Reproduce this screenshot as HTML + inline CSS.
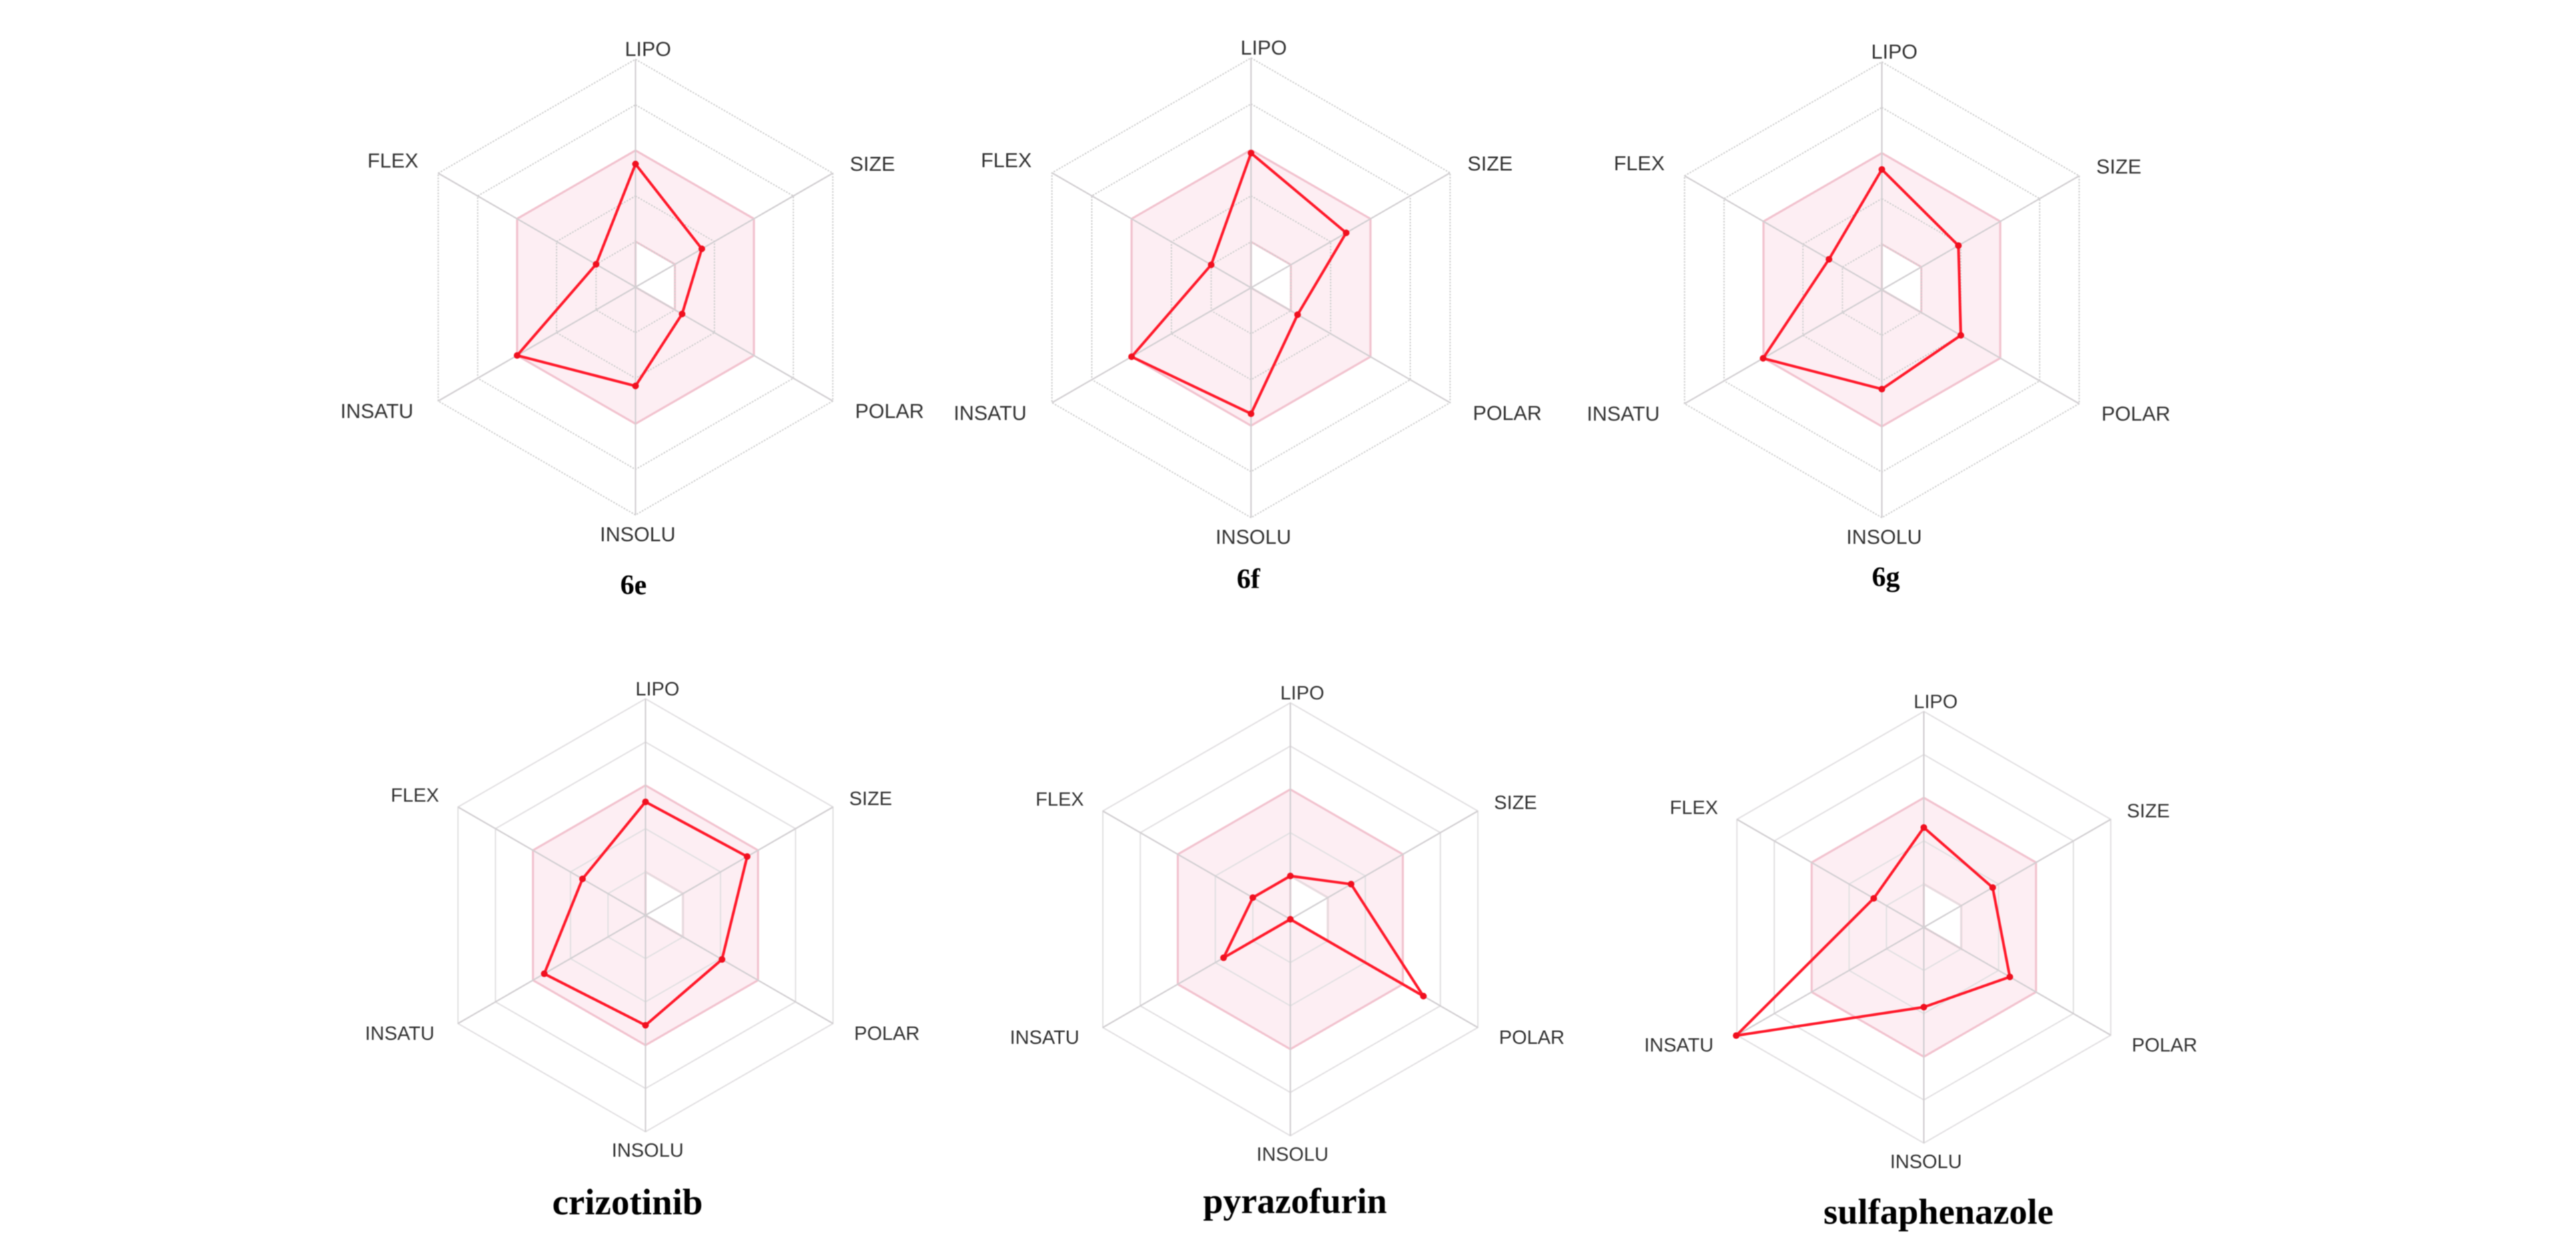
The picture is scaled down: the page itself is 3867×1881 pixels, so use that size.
<!DOCTYPE html>
<html lang="en">
<head>
<meta charset="utf-8">
<title>Bioavailability radar charts</title>
<style>
  html, body { margin: 0; padding: 0; background: #ffffff; }
  #figure { display: block; width: 3867px; height: 1881px; background: #ffffff; filter: blur(0.8px); }
  .axis-label { font-family: "Liberation Sans", sans-serif; fill: #333333; text-anchor: middle; }
  .panel-title { font-family: "Liberation Serif", serif; font-weight: bold; fill: #000000; text-anchor: middle; }
</style>
</head>
<body>
<svg id="figure" xmlns="http://www.w3.org/2000/svg" width="3867" height="1881" viewBox="0 0 3867 1881"></svg>
<script>
// Axis categories, clockwise from the top
const axisLabels = ["LIPO", "SIZE", "POLAR", "INSOLU", "INSATU", "FLEX"];
// Radial tick levels and the optimal-range band limits
const ringLevels = [1, 2, 3, 4, 5];
const bandUpper = 3;
const bandLower = 1;
const axisMax = 5;

// Series values in the order of axisLabels
const values6e = [2.70, 1.68, 1.18, 2.17, 3.00, 1.00];
const values6f = [2.93, 2.39, 1.17, 2.74, 3.00, 1.00];
const values6g = [2.64, 1.94, 2.00, 2.18, 3.01, 1.34];
const valuesCrizotinib = [2.62, 2.71, 2.04, 2.54, 2.70, 1.68];
const valuesPyrazofurin = [1.00, 1.62, 3.55, 0.00, 1.78, 1.00];
const valuesSulfaphenazole = [2.31, 1.84, 2.30, 1.85, 5.02, 1.34];

// Panel layout (separate from the data)
const panels = [
  { title: "6e", slug: "6e", values: values6e, cx: 954, cy: 431, r: 342, titleX: 951, titleY: 892, titleSize: 42, labelSize: 30.5, dotted: true },
  { title: "6f", slug: "6f", values: values6f, cx: 1878, cy: 432, r: 345, titleX: 1874, titleY: 883, titleSize: 42, labelSize: 30.5, dotted: true },
  { title: "6g", slug: "6g", values: values6g, cx: 2825, cy: 435, r: 342, titleX: 2831, titleY: 880, titleSize: 42, labelSize: 30.5, dotted: true },
  { title: "crizotinib", slug: "crizotinib", values: valuesCrizotinib, cx: 969, cy: 1374, r: 325, titleX: 942, titleY: 1823, titleSize: 55, labelSize: 29, dotted: false },
  { title: "pyrazofurin", slug: "pyrazofurin", values: valuesPyrazofurin, cx: 1937, cy: 1380, r: 325, titleX: 1944, titleY: 1821, titleSize: 54, labelSize: 29, dotted: false },
  { title: "sulfaphenazole", slug: "sulfaphenazole", values: valuesSulfaphenazole, cx: 2888, cy: 1392, r: 324, titleX: 2910, titleY: 1837, titleSize: 54.5, labelSize: 29, dotted: false }
];

// Label anchor offsets as fractions of the radius, one per axis
const labelOffsetX = [0.055, 1.04, 1.115, 0.01, -1.135, -1.065];
const labelOffsetY = [-1.015, -0.51, 0.575, 1.115, 0.575, -0.525];

const SVG_NS = "http://www.w3.org/2000/svg";
const figure = document.getElementById("figure");

function angleOf(i) {
  return (-90 + 60 * i) * Math.PI / 180;
}
function radiusScale(panel, value) {
  return value / axisMax * panel.r;
}
function pointAt(panel, i, value) {
  const rad = radiusScale(panel, value);
  return [panel.cx + Math.cos(angleOf(i)) * rad, panel.cy + Math.sin(angleOf(i)) * rad];
}
function pointString(pts) {
  return pts.map(function (p) { return p[0].toFixed(1) + "," + p[1].toFixed(1); }).join(" ");
}
function pathString(pts) {
  return "M" + pts.map(function (p) { return p[0].toFixed(1) + " " + p[1].toFixed(1); }).join("L") + "Z";
}
function ringPoints(panel, level) {
  return axisLabels.map(function (_, i) { return pointAt(panel, i, level); });
}

panels.forEach(function (panel) {
  const group = document.createElementNS(SVG_NS, "g");
  
  
  figure.appendChild(group);

  // Optimal-range band: upper hexagon minus the wedge bounded by the lower limit
  const outer = ringPoints(panel, bandUpper);
  const hole = [[panel.cx, panel.cy], pointAt(panel, 0, bandLower), pointAt(panel, 1, bandLower), pointAt(panel, 2, bandLower)];
  const band = document.createElementNS(SVG_NS, "path");
  band.setAttribute("d", pathString(outer) + pathString(hole));
  band.setAttribute("fill", "#fdeef3");
  band.setAttribute("fill-rule", "evenodd");
  band.setAttribute("stroke", "#f2c3cf");
  band.setAttribute("stroke-width", "3");
  
  
  group.appendChild(band);

  // Concentric rings
  ringLevels.forEach(function (level) {
    const ring = document.createElementNS(SVG_NS, "polygon");
    ring.setAttribute("points", pointString(ringPoints(panel, level)));
    ring.setAttribute("fill", "none");
    ring.setAttribute("stroke", panel.dotted ? "#cfcfcf" : "#e2e0e2");
    ring.setAttribute("stroke-width", "2");
    if (panel.dotted) {
      ring.setAttribute("stroke-dasharray", "2.5 2");
    }
    
    
    group.appendChild(ring);
  });

  // Re-draw the band edge on top of the ring at the band limit
  const bandEdge = document.createElementNS(SVG_NS, "polygon");
  bandEdge.setAttribute("points", pointString(outer));
  bandEdge.setAttribute("fill", "none");
  bandEdge.setAttribute("stroke", "#f2c3cf");
  bandEdge.setAttribute("stroke-width", "3");
  
  
  group.appendChild(bandEdge);

  // Spokes and axis labels
  axisLabels.forEach(function (label, i) {
    const end = pointAt(panel, i, axisMax);
    const spoke = document.createElementNS(SVG_NS, "line");
    spoke.setAttribute("x1", panel.cx);
    spoke.setAttribute("y1", panel.cy);
    spoke.setAttribute("x2", end[0].toFixed(1));
    spoke.setAttribute("y2", end[1].toFixed(1));
    spoke.setAttribute("stroke", "#d2cfd2");
    spoke.setAttribute("stroke-width", "2.2");
    
    
    group.appendChild(spoke);

    const text = document.createElementNS(SVG_NS, "text");
    text.setAttribute("class", "axis-label");
    text.setAttribute("x", (panel.cx + labelOffsetX[i] * panel.r).toFixed(1));
    text.setAttribute("y", (panel.cy + labelOffsetY[i] * panel.r).toFixed(1));
    text.setAttribute("font-size", panel.labelSize);
    
    
    text.textContent = label;
    group.appendChild(text);
  });

  // Data line
  const seriesPoints = panel.values.map(function (v, i) { return pointAt(panel, i, v); });
  const line = document.createElementNS(SVG_NS, "polygon");
  line.setAttribute("points", pointString(seriesPoints));
  line.setAttribute("fill", "none");
  line.setAttribute("stroke", "#ff1a2b");
  line.setAttribute("stroke-width", "4");
  line.setAttribute("stroke-linejoin", "round");
  
  
  group.appendChild(line);

  // Data points
  seriesPoints.forEach(function (p, i) {
    const dot = document.createElementNS(SVG_NS, "circle");
    dot.setAttribute("cx", p[0].toFixed(1));
    dot.setAttribute("cy", p[1].toFixed(1));
    dot.setAttribute("r", "5");
    dot.setAttribute("fill", "#f0101f");
    
    
    group.appendChild(dot);
  });

  // Panel title
  const title = document.createElementNS(SVG_NS, "text");
  title.setAttribute("class", "panel-title");
  title.setAttribute("x", panel.titleX);
  title.setAttribute("y", panel.titleY);
  title.setAttribute("font-size", panel.titleSize);
  
  
  title.textContent = panel.title;
  group.appendChild(title);
});
</script>
</body>
</html>
